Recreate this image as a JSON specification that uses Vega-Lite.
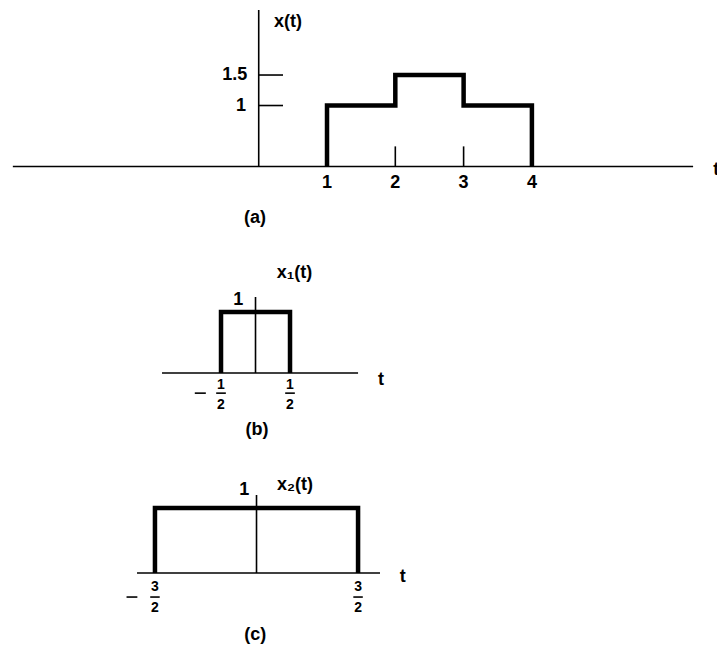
{
  "$schema": "https://vega.github.io/schema/vega-lite/v6.json",
  "autosize": {"type": "pad"},
  "padding": 0,
  "bounds": "flush",
  "spacing": 0,
  "background": "white",
  "config": {"view": {"stroke": null}, "text": {"font": "Liberation Sans", "fontWeight": "bold", "color": "black"}},
  "vconcat": [
    {
      "width": 717, "height": 230,
      "encoding": {
        "x": {"field": "t", "type": "quantitative", "scale": {"domain": [-3.788, 6.71], "nice": false, "zero": false}, "axis": null},
        "y": {"field": "v", "type": "quantitative", "scale": {"domain": [-1.041, 2.73], "nice": false, "zero": false}, "axis": null}
      },
      "layer": [
        {
          "data": {"values": [
            {"t": -3.6, "t2": 6.36, "v": 0, "v2": 0},
            {"t": 0, "t2": 0, "v": 0, "v2": 2.566},
            {"t": 0, "t2": 0.356, "v": 1, "v2": 1},
            {"t": 0, "t2": 0.356, "v": 1.5, "v2": 1.5},
            {"t": 2, "t2": 2, "v": 0, "v2": 0.33},
            {"t": 3, "t2": 3, "v": 0, "v2": 0.33}
          ]},
          "mark": {"type": "rule", "color": "black", "strokeWidth": 1.6},
          "encoding": {"x2": {"field": "t2"}, "y2": {"field": "v2"}}
        },
        {
          "data": {"values": [
            {"i": 0, "t": 1, "v": 0}, {"i": 1, "t": 1, "v": 1}, {"i": 2, "t": 2, "v": 1}, {"i": 3, "t": 2, "v": 1.5},
            {"i": 4, "t": 3, "v": 1.5}, {"i": 5, "t": 3, "v": 1}, {"i": 6, "t": 4, "v": 1}, {"i": 7, "t": 4, "v": 0}
          ]},
          "mark": {"type": "line", "color": "black", "strokeWidth": 4.5, "strokeJoin": "miter"},
          "encoding": {"order": {"field": "i", "type": "quantitative"}}
        },
        {
          "data": {"values": [
            {"t": 0.43, "v": 2.37, "label": "x(t)"},
            {"t": -0.35, "v": 1.5, "label": "1.5"},
            {"t": -0.26, "v": 1, "label": "1"},
            {"t": 1, "v": -0.27, "label": "1"},
            {"t": 2, "v": -0.27, "label": "2"},
            {"t": 3, "v": -0.27, "label": "3"},
            {"t": 4, "v": -0.27, "label": "4"},
            {"t": -0.055, "v": -0.844, "label": "(a)"},
            {"t": 6.7, "v": -0.06, "label": "t"}
          ]},
          "mark": {"type": "text", "fontSize": 18, "align": "center", "baseline": "middle"},
          "encoding": {"text": {"field": "label"}}
        }
      ]
    },
    {
      "width": 717, "height": 215,
      "encoding": {
        "x": {"field": "t", "type": "quantitative", "scale": {"domain": [-3.703, 6.688], "nice": false, "zero": false}, "axis": null},
        "y": {"field": "v", "type": "quantitative", "scale": {"domain": [-1.18, 2.344], "nice": false, "zero": false}, "axis": null}
      },
      "layer": [
        {
          "data": {"values": [
            {"t": -1.355, "t2": 1.486, "v": 0, "v2": 0},
            {"t": 0, "t2": 0, "v": 0, "v2": 1.246},
            {"t": -0.57, "t2": -0.43, "v": -0.33, "v2": -0.33},
            {"t": 0.43, "t2": 0.57, "v": -0.33, "v2": -0.33},
            {"t": -0.88, "t2": -0.72, "v": -0.33, "v2": -0.33}
          ]},
          "mark": {"type": "rule", "color": "black", "strokeWidth": 1.6},
          "encoding": {"x2": {"field": "t2"}, "y2": {"field": "v2"}}
        },
        {
          "data": {"values": [
            {"i": 0, "t": -0.5, "v": 0}, {"i": 1, "t": -0.5, "v": 1}, {"i": 2, "t": 0.5, "v": 1}, {"i": 3, "t": 0.5, "v": 0}
          ]},
          "mark": {"type": "line", "color": "black", "strokeWidth": 4.5, "strokeJoin": "miter"},
          "encoding": {"order": {"field": "i", "type": "quantitative"}}
        },
        {
          "data": {"values": [
            {"t": 0.565, "v": 1.64, "label": "x₁(t)"},
            {"t": -0.25, "v": 1.2, "label": "1"},
            {"t": 0.02, "v": -0.93, "label": "(b)"},
            {"t": 1.82, "v": -0.115, "label": "t"}
          ]},
          "mark": {"type": "text", "fontSize": 18, "align": "center", "baseline": "middle"},
          "encoding": {"text": {"field": "label"}}
        },
        {
          "data": {"values": [
            {"t": -0.5, "v": -0.2, "label": "1"},
            {"t": -0.5, "v": -0.52, "label": "2"},
            {"t": 0.5, "v": -0.2, "label": "1"},
            {"t": 0.5, "v": -0.52, "label": "2"}
          ]},
          "mark": {"type": "text", "fontSize": 14, "align": "center", "baseline": "middle"},
          "encoding": {"text": {"field": "label"}}
        }
      ]
    },
    {
      "width": 717, "height": 206,
      "encoding": {
        "x": {"field": "t", "type": "quantitative", "scale": {"domain": [-3.789, 6.802], "nice": false, "zero": false}, "axis": null},
        "y": {"field": "v", "type": "quantitative", "scale": {"domain": [-1.2, 1.969], "nice": false, "zero": false}, "axis": null}
      },
      "layer": [
        {
          "data": {"values": [
            {"t": -1.765, "t2": 1.824, "v": 0, "v2": 0},
            {"t": 0, "t2": 0, "v": 0, "v2": 1.2},
            {"t": -1.57, "t2": -1.43, "v": -0.37, "v2": -0.37},
            {"t": 1.43, "t2": 1.57, "v": -0.37, "v2": -0.37},
            {"t": -1.92, "t2": -1.76, "v": -0.37, "v2": -0.37}
          ]},
          "mark": {"type": "rule", "color": "black", "strokeWidth": 1.6},
          "encoding": {"x2": {"field": "t2"}, "y2": {"field": "v2"}}
        },
        {
          "data": {"values": [
            {"i": 0, "t": -1.5, "v": 0}, {"i": 1, "t": -1.5, "v": 1}, {"i": 2, "t": 1.5, "v": 1}, {"i": 3, "t": 1.5, "v": 0}
          ]},
          "mark": {"type": "line", "color": "black", "strokeWidth": 4.5, "strokeJoin": "miter"},
          "encoding": {"order": {"field": "i", "type": "quantitative"}}
        },
        {
          "data": {"values": [
            {"t": 0.57, "v": 1.35, "label": "x₂(t)"},
            {"t": -0.18, "v": 1.28, "label": "1"},
            {"t": -0.02, "v": -0.95, "label": "(c)"},
            {"t": 2.16, "v": -0.06, "label": "t"}
          ]},
          "mark": {"type": "text", "fontSize": 18, "align": "center", "baseline": "middle"},
          "encoding": {"text": {"field": "label"}}
        },
        {
          "data": {"values": [
            {"t": -1.5, "v": -0.215, "label": "3"},
            {"t": -1.5, "v": -0.54, "label": "2"},
            {"t": 1.5, "v": -0.215, "label": "3"},
            {"t": 1.5, "v": -0.54, "label": "2"}
          ]},
          "mark": {"type": "text", "fontSize": 14, "align": "center", "baseline": "middle"},
          "encoding": {"text": {"field": "label"}}
        }
      ]
    }
  ]
}
